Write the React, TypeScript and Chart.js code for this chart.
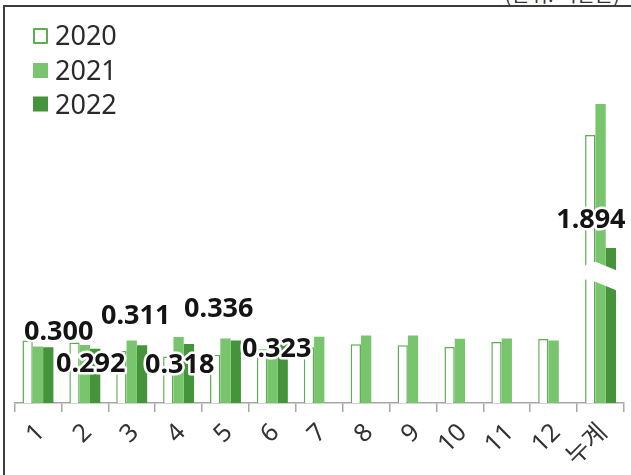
import React, { useEffect, useRef } from 'react';
import { Chart, registerables } from 'chart.js';

Chart.register(...registerables);

// ---- data ----
const categories = ['1', '2', '3', '4', '5', '6', '7', '8', '9', '10', '11', '12', '누계'];
const years = ['2020', '2021', '2022'];
const monthly2020 = [0.337, 0.326, 0.28, 0.25, 0.26, 0.29, 0.3, 0.317, 0.311, 0.301, 0.328, 0.344];
const monthly2021 = [0.304, 0.313, 0.337, 0.355, 0.348, 0.28, 0.357, 0.364, 0.364, 0.346, 0.348, 0.337];
const monthly2022 = [0.3, 0.292, 0.311, 0.318, 0.336, 0.323];
const cumulative = [3.276, 3.655, 1.894]; // 2020, 2021, 2022
const unitText = '(단위: 백만톤)';

// ---- styling / config ----
const COLORS = { c2020: '#5DAE52', c2021: '#78C56E', c2022: '#45943B' };
const BREAK = { leftTop: 1.675, midTop: 1.727, rightTop: 1.615, rightBottom: 1.37, midBottom: 1.483, leftBottom: 1.516 };
const LABEL_OFFSETS = [
  [10.5, -15], [-4.4, 16], [-6.3, -29], [-9.2, 21], [-17, -31], [-6, 6],
];
const CUM_LABEL_OFFSET = [-20, -28];

function padMonthly(arr: number[]) {
  const out: (number | null)[] = [];
  for (let i = 0; i < categories.length; i++) out.push(i < arr.length && i < 12 ? arr[i] : null);
  return out;
}
function cumData(v: number) {
  const out: (number | null)[] = categories.map(() => null);
  out[categories.length - 1] = v;
  return out;
}

const overlayPlugin = {
  id: 'overlay',
  afterDatasetsDraw(chart: any) {
    const ctx = chart.ctx as CanvasRenderingContext2D;
    const y2 = chart.scales.y2;
    const idx = categories.length - 1;
    const b0 = chart.getDatasetMeta(3).data[idx];
    const b1 = chart.getDatasetMeta(4).data[idx];
    const b2 = chart.getDatasetMeta(5).data[idx];
    const left = b0.x - b0.width / 2 - 2;
    const mid = b1.x - b1.width / 2;
    const right = b2.x + b2.width / 2 + 2;
    ctx.save();
    ctx.fillStyle = '#ffffff';
    ctx.beginPath();
    ctx.moveTo(left, y2.getPixelForValue(BREAK.leftTop));
    ctx.lineTo(mid, y2.getPixelForValue(BREAK.midTop));
    ctx.lineTo(right, y2.getPixelForValue(BREAK.rightTop));
    ctx.lineTo(right, y2.getPixelForValue(BREAK.rightBottom));
    ctx.lineTo(mid, y2.getPixelForValue(BREAK.midBottom));
    ctx.lineTo(left, y2.getPixelForValue(BREAK.leftBottom));
    ctx.closePath();
    ctx.fill();

    // value labels (2022)
    ctx.font = 'bold 27px "Noto Sans"';
    ctx.textAlign = 'center';
    ctx.textBaseline = 'middle';
    ctx.lineJoin = 'round';
    ctx.lineWidth = 5;
    ctx.strokeStyle = '#ffffff';
    ctx.fillStyle = '#141414';
    const drawLabel = (text: string, x: number, y: number) => {
      ctx.strokeText(text, x, y);
      ctx.fillText(text, x, y);
    };
    const m22 = chart.getDatasetMeta(2);
    monthly2022.forEach((v, i) => {
      const el = m22.data[i];
      const off = LABEL_OFFSETS[i] || [0, -15];
      drawLabel(v.toFixed(3), el.x + off[0], el.y + off[1]);
    });
    drawLabel(cumulative[2].toFixed(3), b2.x + CUM_LABEL_OFFSET[0], b2.y + CUM_LABEL_OFFSET[1]);

    // legend
    ctx.font = '27px "Noto Sans"';
    ctx.textAlign = 'left';
    ctx.textBaseline = 'alphabetic';
    const baselines = [45, 80, 113.5];
    years.forEach((yr, i) => {
      const by = baselines[i];
      if (i === 0) {
        ctx.fillStyle = '#ffffff';
        ctx.fillRect(34, by - 16, 13, 14);
        ctx.strokeStyle = COLORS.c2020;
        ctx.lineWidth = 2;
        ctx.strokeRect(34, by - 16, 13, 14);
      } else {
        ctx.fillStyle = i === 1 ? COLORS.c2021 : COLORS.c2022;
        ctx.fillRect(33, by - 17, 15, 15);
      }
      ctx.fillStyle = '#2a2a2a';
      ctx.fillText(yr, 55, by);
    });
    ctx.restore();
  },
};

export default function App() {
  const ref = useRef<HTMLCanvasElement>(null);
  useEffect(() => {
    if (!ref.current) return;
    const chart = new Chart(ref.current, {
      type: 'bar',
      data: {
        labels: categories,
        datasets: [
          { label: years[0], data: padMonthly(monthly2020), yAxisID: 'y', stack: 's0', backgroundColor: '#ffffff', borderColor: COLORS.c2020, borderWidth: 1.5 },
          { label: years[1], data: padMonthly(monthly2021), yAxisID: 'y', stack: 's1', backgroundColor: COLORS.c2021, borderWidth: 0 },
          { label: years[2], data: padMonthly(monthly2022), yAxisID: 'y', stack: 's2', backgroundColor: COLORS.c2022, borderWidth: 0 },
          { label: years[0] + ' 누계', data: cumData(cumulative[0]), yAxisID: 'y2', stack: 's0', backgroundColor: '#ffffff', borderColor: COLORS.c2020, borderWidth: 1.5 },
          { label: years[1] + ' 누계', data: cumData(cumulative[1]), yAxisID: 'y2', stack: 's1', backgroundColor: COLORS.c2021, borderWidth: 0 },
          { label: years[2] + ' 누계', data: cumData(cumulative[2]), yAxisID: 'y2', stack: 's2', backgroundColor: COLORS.c2022, borderWidth: 0 },
        ],
      },
      options: {
        responsive: false,
        animation: false,
        devicePixelRatio: 1,
        layout: { padding: { left: 14.5, right: 7, top: 31.6, bottom: 0 } },
        plugins: { legend: { display: false }, tooltip: { enabled: false } },
        datasets: { bar: { categoryPercentage: 0.66, barPercentage: 1 } },
        scales: {
          x: {
            offset: true,
            grid: { offset: true, drawOnChartArea: false, drawTicks: true, tickLength: 9, color: '#A6A6A6', lineWidth: 1.5 },
            border: { display: true, color: '#A6A6A6', width: 1.5 },
            ticks: { autoSkip: false, maxRotation: 45, minRotation: 45, color: '#333333', padding: 6, labelOffset: 3, font: { family: '"Noto Sans", "Noto Sans CJK KR"', size: 25 } },
            afterFit: (s: any) => { s.height = 72; },
          },
          y: { display: false, min: 0, max: 2.0, stacked: false },
          y2: { display: false, min: 0, max: 4.54, stacked: false },
        },
      } as any,
      plugins: [overlayPlugin],
    });
    return () => chart.destroy();
  }, []);

  return (
    <div style={{ position: 'fixed', left: 0, top: 0, width: 631, height: 475, overflow: 'hidden', background: '#ffffff' }}>
      <div style={{ position: 'absolute', left: 3, top: 5, width: 700, height: 600, borderTop: '2px solid #3c3c3c', borderLeft: '2px solid #3c3c3c' }} />
      <span style={{ position: 'absolute', right: 11, top: -16, fontSize: 20, lineHeight: '20px', fontFamily: '"Noto Sans CJK KR"', color: '#333', whiteSpace: 'nowrap' }}>{unitText}</span>
      <canvas ref={ref} width={631} height={475} style={{ position: 'absolute', left: 0, top: 0, display: 'block' }} />
    </div>
  );
}
